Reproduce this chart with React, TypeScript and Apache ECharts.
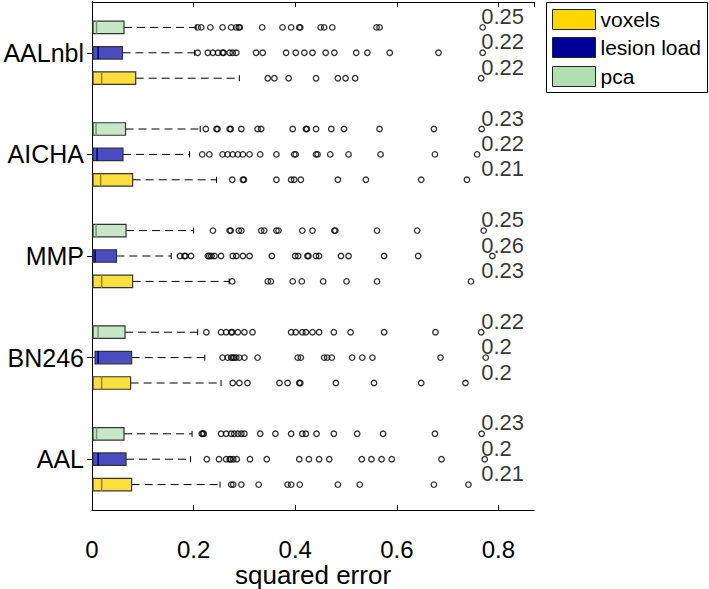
import React, { useEffect, useRef } from 'react';
import * as echarts from 'echarts';

// Atlases, bottom to top on the y axis
const atlases = ['AAL', 'BN246', 'MMP', 'AICHA', 'AALnbl'];
const featureNames = ['voxels', 'lesion load', 'pca'];

// Box statistics per atlas: [lower whisker, q1, median, q3, upper whisker]
const voxelsBox = [
  [0, 0.002, 0.019, 0.078, 0.252],
  [0, 0.002, 0.019, 0.076, 0.254],
  [0, 0.002, 0.019, 0.080, 0.270],
  [0, 0.002, 0.017, 0.080, 0.245],
  [0, 0.002, 0.019, 0.086, 0.290],
];
const lesionBox = [
  [0, 0.002, 0.012, 0.067, 0.194],
  [0, 0.006, 0.012, 0.078, 0.222],
  [0, 0.002, 0.006, 0.048, 0.156],
  [0, 0.002, 0.010, 0.061, 0.192],
  [0, 0.002, 0.012, 0.060, 0.202],
];
const pcaBox = [
  [0, 0.002, 0.009, 0.063, 0.197],
  [0, 0.002, 0.012, 0.065, 0.208],
  [0, 0.002, 0.008, 0.067, 0.200],
  [0, 0.002, 0.008, 0.066, 0.213],
  [0, 0.002, 0.009, 0.063, 0.205],
];

// Outliers per atlas
const voxelsOutliers = [
  [0.274, 0.278, 0.294, 0.328, 0.385, 0.392, 0.409, 0.484, 0.527, 0.673, 0.741],
  [0.277, 0.290, 0.306, 0.369, 0.385, 0.408, 0.410, 0.480, 0.555, 0.648, 0.735],
  [0.276, 0.346, 0.352, 0.395, 0.413, 0.455, 0.501, 0.561, 0.746],
  [0.276, 0.297, 0.299, 0.363, 0.392, 0.398, 0.411, 0.484, 0.539, 0.648, 0.738],
  [0.346, 0.359, 0.387, 0.441, 0.484, 0.499, 0.518, 0.766],
];
const lesionOutliers = [
  [0.226, 0.250, 0.264, 0.271, 0.273, 0.278, 0.285, 0.311, 0.344, 0.408, 0.427, 0.447, 0.467, 0.531, 0.550, 0.570, 0.590, 0.688, 0.773],
  [0.257, 0.267, 0.274, 0.277, 0.280, 0.284, 0.290, 0.300, 0.326, 0.405, 0.411, 0.457, 0.463, 0.472, 0.512, 0.532, 0.552, 0.686, 0.775],
  [0.173, 0.182, 0.184, 0.195, 0.228, 0.231, 0.235, 0.241, 0.254, 0.277, 0.284, 0.297, 0.310, 0.354, 0.400, 0.406, 0.424, 0.426, 0.441, 0.447, 0.490, 0.505, 0.575, 0.642, 0.788],
  [0.217, 0.231, 0.257, 0.267, 0.277, 0.287, 0.297, 0.310, 0.331, 0.363, 0.398, 0.401, 0.441, 0.444, 0.469, 0.505, 0.568, 0.675, 0.758],
  [0.208, 0.228, 0.238, 0.248, 0.257, 0.259, 0.271, 0.277, 0.284, 0.323, 0.336, 0.382, 0.401, 0.418, 0.434, 0.460, 0.477, 0.520, 0.542, 0.586, 0.682, 0.769],
];
const pcaOutliers = [
  [0.216, 0.218, 0.220, 0.254, 0.264, 0.274, 0.280, 0.287, 0.294, 0.300, 0.331, 0.361, 0.392, 0.414, 0.421, 0.442, 0.476, 0.522, 0.573, 0.675, 0.767],
  [0.225, 0.254, 0.264, 0.274, 0.276, 0.287, 0.300, 0.316, 0.392, 0.401, 0.414, 0.421, 0.434, 0.447, 0.476, 0.509, 0.575, 0.676, 0.766],
  [0.238, 0.271, 0.273, 0.289, 0.294, 0.333, 0.339, 0.363, 0.367, 0.414, 0.434, 0.477, 0.479, 0.561, 0.640, 0.771],
  [0.224, 0.245, 0.247, 0.271, 0.273, 0.294, 0.326, 0.333, 0.395, 0.421, 0.423, 0.441, 0.471, 0.496, 0.566, 0.673, 0.767],
  [0.208, 0.215, 0.233, 0.257, 0.274, 0.284, 0.289, 0.291, 0.335, 0.375, 0.392, 0.408, 0.410, 0.450, 0.457, 0.473, 0.560, 0.566, 0.769],
];

// Text annotations per atlas
const voxelsLabels = ['0.21', '0.2', '0.23', '0.21', '0.22'];
const lesionLabels = ['0.2', '0.2', '0.26', '0.22', '0.22'];
const pcaLabels = ['0.23', '0.22', '0.25', '0.23', '0.25'];

const xTickMax = 0.87;

const FONT = "'Liberation Sans', Arial, Helvetica, sans-serif";

const features = [
  { name: featureNames[0], box: voxelsBox, out: voxelsOutliers, labels: voxelsLabels, offset: -0.25, fill: '#FFDF3E', median: '#9a8420', legend: '#FFD700' },
  { name: featureNames[1], box: lesionBox, out: lesionOutliers, labels: lesionLabels, offset: 0, fill: '#4C4CC2', median: '#00006e', legend: '#000099' },
  { name: featureNames[2], box: pcaBox, out: pcaOutliers, labels: pcaLabels, offset: 0.25, fill: '#C8E7C8', median: '#6f9c6f', legend: '#B2DFB2' },
];

export default function App() {
  const ref = useRef<HTMLDivElement>(null);
  useEffect(() => {
    if (!ref.current) return;
    const chart = echarts.init(ref.current, null, { renderer: 'svg' });
    const series: any[] = [];
    features.forEach((f) => {
      const boxData = f.box.map((b, i) => [...b, i + 0.5 + f.offset]);
      series.push({
        type: 'custom',
        name: f.name,
        xAxisIndex: 0,
        yAxisIndex: 2,
        data: boxData,
        renderItem: (params: any, api: any) => {
          const y = api.value(5);
          const lo = api.coord([api.value(0), y]);
          const q1 = api.coord([api.value(1), y]);
          const med = api.coord([api.value(2), y]);
          const q3 = api.coord([api.value(3), y]);
          const hi = api.coord([api.value(4), y]);
          const h = 12.5;
          const cy = q1[1];
          return {
            type: 'group',
            children: [
              { type: 'line', shape: { x1: q3[0], y1: cy, x2: hi[0], y2: cy }, style: { stroke: '#000', lineWidth: 1, lineDash: [8, 5] } },
              { type: 'line', shape: { x1: hi[0], y1: cy - 3, x2: hi[0], y2: cy + 3 }, style: { stroke: '#000', lineWidth: 1 } },
              { type: 'line', shape: { x1: lo[0], y1: cy, x2: q1[0], y2: cy }, style: { stroke: '#000', lineWidth: 1 } },
              { type: 'rect', shape: { x: q1[0], y: cy - h / 2, width: q3[0] - q1[0], height: h }, style: { fill: f.fill, stroke: '#333', lineWidth: 1.2 } },
              { type: 'line', shape: { x1: med[0], y1: cy - h / 2, x2: med[0], y2: cy + h / 2 }, style: { stroke: f.median, lineWidth: 1.5 } },
            ],
          };
        },
        z: 3,
      });
      const outData: number[][] = [];
      f.out.forEach((arr, i) => arr.forEach((v) => outData.push([v, i + 0.5 + f.offset])));
      series.push({
        type: 'scatter',
        xAxisIndex: 0,
        yAxisIndex: 2,
        data: outData,
        symbol: 'circle',
        symbolSize: 5.5,
        itemStyle: { color: 'rgba(0,0,0,0)', borderColor: '#000', borderWidth: 1.3 },
        z: 4,
        silent: true,
      });
      series.push({
        type: 'scatter',
        xAxisIndex: 0,
        yAxisIndex: 2,
        data: f.labels.map((t, i) => ({ value: [0.765, i + 0.5 + f.offset], name: t })),
        symbolSize: 1,
        itemStyle: { color: 'rgba(0,0,0,0)' },
        label: {
          show: true,
          position: 'right',
          distance: 0,
          offset: [0, -11],
          formatter: (p: any) => p.name,
          fontFamily: FONT,
          fontSize: 22,
          color: '#000',
        },
        z: 5,
        silent: true,
      });
    });

    const legendItems: any[] = [
      { type: 'rect', shape: { x: 0, y: 0, width: 161, height: 90 }, style: { fill: '#fff', stroke: '#000', lineWidth: 1 } },
    ];
    const swY = [7, 35, 64];
    features.forEach((f, k) => {
      legendItems.push({ type: 'rect', shape: { x: 6, y: swY[k], width: 43, height: 20 }, style: { fill: f.legend, stroke: '#222', lineWidth: 1 } });
      legendItems.push({ type: 'text', x: 54, y: swY[k] + 10, style: { text: f.name, fontFamily: FONT, fontSize: 21, fill: '#000', verticalAlign: 'middle', align: 'left' } });
    });

    const axisLineStyle = { lineStyle: { color: '#000', width: 1 } };
    chart.setOption({
      animation: false,
      backgroundColor: '#fff',
      grid: { left: 92, right: 175, top: 2, bottom: 79, containLabel: false, outerBoundsMode: 'none' },
      xAxis: [
        {
          type: 'value', position: 'bottom', min: 0, max: xTickMax, interval: 0.2,
          axisLine: { show: true, ...axisLineStyle },
          axisTick: { show: true, inside: true, length: 5, lineStyle: { color: '#000' } },
          splitLine: { show: false },
          axisLabel: { color: '#000', fontFamily: FONT, fontSize: 24, margin: 27, showMaxLabel: false, formatter: (v: number) => (v === 0 ? '0' : String(Math.round(v * 10) / 10)) },
          name: 'squared error', nameLocation: 'middle', nameGap: 52, nameMoveOverlap: false,
          nameTextStyle: { color: '#000', fontFamily: FONT, fontSize: 26 },
        },
        {
          type: 'value', position: 'top', min: 0, max: xTickMax, interval: 0.2,
          axisLine: { show: true, ...axisLineStyle },
          axisTick: { show: true, inside: true, length: 5, lineStyle: { color: '#000' } },
          splitLine: { show: false },
          axisLabel: { show: false },
        },
      ],
      yAxis: [
        {
          type: 'category', data: atlases, position: 'left',
          axisLine: { show: true, ...axisLineStyle },
          axisTick: { show: true, inside: true, alignWithLabel: true, length: 5, lineStyle: { color: '#000' } },
          axisLabel: { color: '#000', fontFamily: FONT, fontSize: 25, margin: 8 },
        },
        {
          type: 'category', data: atlases, position: 'right',
          axisLine: { show: true, ...axisLineStyle },
          axisTick: { show: true, inside: true, alignWithLabel: true, length: 5, lineStyle: { color: '#000' } },
          axisLabel: { show: false },
        },
        { type: 'value', min: 0, max: atlases.length, show: false },
      ],
      graphic: [{ type: 'group', left: 546, top: 2, children: legendItems }],
      series,
    });
    return () => chart.dispose();
  }, []);
  return <div ref={ref} style={{ position: 'fixed', left: 0, top: 0, width: 709, height: 589 }} />;
}
